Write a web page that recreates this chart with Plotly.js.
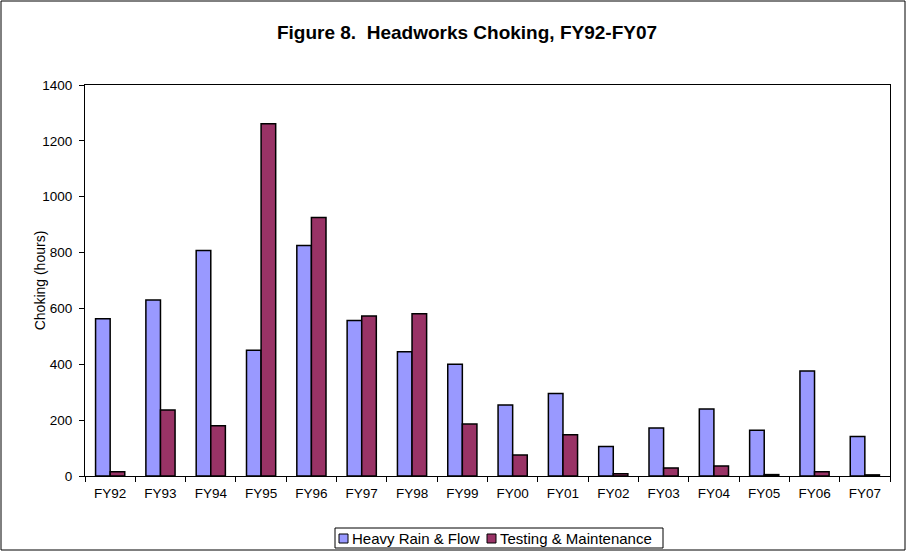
<!DOCTYPE html>
<html>
<head>
<meta charset="utf-8">
<script src="https://cdn.plot.ly/plotly-3.0.1.min.js"></script>
<style>html,body{margin:0;padding:0;background:#fff;}#chart{width:907px;height:552px;}</style>
</head>
<body>
<div id="chart"></div>
<script>
const categories = ["FY92","FY93","FY94","FY95","FY96","FY97","FY98","FY99","FY00","FY01","FY02","FY03","FY04","FY05","FY06","FY07"];
const heavyRain = [563, 630, 807, 450, 825, 557, 445, 400, 254, 295, 106, 172, 240, 164, 376, 141];
const testing = [15, 236, 180, 1261, 926, 573, 581, 186, 75, 148, 8, 29, 36, 5, 15, 4];
const seriesNames = ["Heavy Rain & Flow", "Testing & Maintenance"];
const seriesColors = ["#9999FF", "#993366"];

const W = 907, H = 552, ML = 85, MR = 17, MT = 85, MB = 76;
const PW = W - ML - MR, PH = H - MT - MB;
const px = v => (v - ML) / PW;
const py = v => (H - MB - v) / PH;

const FAM = "Liberation Sans, Arial, sans-serif";
const tickFont = {family: FAM, size: 13.5, color: "#000"};
const legFont = {family: FAM, size: 15, color: "#000"};

const traces = [
  {type: "bar", name: seriesNames[0], x: categories, y: heavyRain,
   marker: {color: seriesColors[0], line: {color: "#000", width: 1.5}}},
  {type: "bar", name: seriesNames[1], x: categories, y: testing,
   marker: {color: seriesColors[1], line: {color: "#000", width: 1.5}}}
];

// custom legend (layout only)
const legBox = {x0: 335, x1: 663, y0: 528, y1: 548};
const legItems = [{sq: 339, tx: 351}, {sq: 487, tx: 499}];
const shapes = [
  {type: "rect", xref: "paper", yref: "paper", x0: px(1), x1: px(905), y0: py(550), y1: py(1),
   line: {color: "#000", width: 1}, fillcolor: "rgba(0,0,0,0)", layer: "below"},
  {type: "rect", xref: "paper", yref: "paper", x0: px(legBox.x0), x1: px(legBox.x1), y0: py(legBox.y1), y1: py(legBox.y0),
   line: {color: "#000", width: 1}, fillcolor: "#fff"}
];
const annotations = [];
legItems.forEach((it, i) => {
  shapes.push({type: "rect", xref: "paper", yref: "paper", x0: px(it.sq), x1: px(it.sq + 9), y0: py(543), y1: py(534),
    line: {color: "#000", width: 1}, fillcolor: seriesColors[i]});
  annotations.push({xref: "paper", yref: "paper", x: px(it.tx), y: py(538.5), xanchor: "left", yanchor: "middle",
    text: seriesNames[i].replace("&", "&amp;"), showarrow: false, font: legFont, borderpad: 0});
});

const layout = {
  width: W, height: H,
  margin: {l: ML, r: MR, t: MT, b: MB},
  paper_bgcolor: "#fff", plot_bgcolor: "#fff",
  font: tickFont,
  title: {text: "<b>Figure 8.&nbsp; Headworks Choking, FY92-FY07</b>", font: {family: FAM, size: 19, color: "#000"},
          x: 467 / W, xref: "container", xanchor: "center", y: 1 - 32 / H, yanchor: "middle"},
  barmode: "group", bargap: 0.42, bargroupgap: 0,
  showlegend: false,
  xaxis: {type: "category", showline: true, linecolor: "#000", linewidth: 1, mirror: true,
          ticks: "outside", tickson: "boundaries", ticklen: 5, tickcolor: "#000", ticklabelstandoff: 5,
          showgrid: false, zeroline: false, tickfont: tickFont, fixedrange: true},
  yaxis: {range: [0, 1400], dtick: 200, tick0: 0, showline: true, linecolor: "#000", linewidth: 1, mirror: true,
          ticks: "outside", ticklen: 5, tickcolor: "#000", ticklabelstandoff: 4, showgrid: false, zeroline: false,
          tickfont: tickFont, title: {text: "Choking (hours)", font: {family: FAM, size: 14, color: "#000"}}, fixedrange: true},
  shapes: shapes,
  annotations: annotations
};

Plotly.newPlot("chart", traces, layout, {displayModeBar: false, staticPlot: true});
</script>
</body>
</html>
